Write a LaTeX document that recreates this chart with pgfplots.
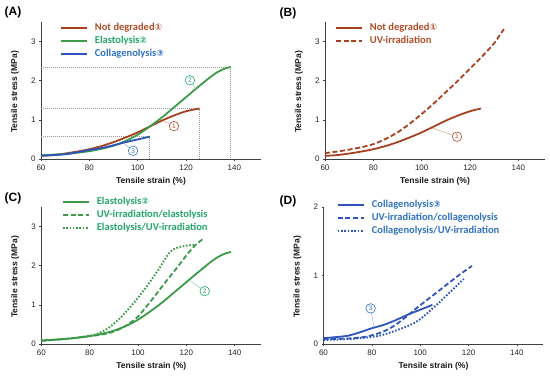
\documentclass[border=0pt]{standalone}
\usepackage{fontspec}
\setmainfont{Liberation Sans}
\newfontfamily\legfont{Carlito}
\newfontfamily\djv{DejaVu Sans}
\usepackage{pgfplots}
\pgfplotsset{compat=1.18}
\definecolor{cbrown}{HTML}{A8401E}
\definecolor{tbrown}{HTML}{B04E28}
\definecolor{cgreen}{HTML}{3C9A48}
\definecolor{tgreen}{HTML}{23A66A}
\definecolor{cblue}{HTML}{2D55BC}
\definecolor{tblue}{HTML}{2F72C4}
\newcommand{\cnum}[1]{{\djv\fontsize{9}{10}\selectfont #1}}
\tikzset{
  guide/.style={gray!80, line width=0.6pt, dash pattern=on 0.8pt off 1.2pt},
  lead/.style={line width=0.4pt},
  cmark/.style={circle, fill=white, line width=0.6pt, inner sep=0pt, minimum size=9.5pt, font=\fontsize{6.5}{7}\selectfont},
  sol/.style={line width=1.8pt},
  dsh/.style={line width=1.8pt, dash pattern=on 5pt off 2.6pt},
  dtt/.style={line width=1.9pt, dash pattern=on 1.6pt off 1.7pt},
}
\pgfplotsset{
  panel/.style={
    scale only axis, width=220pt, height=137pt,
    xmin=60, xmax=151, ymin=0,
    axis lines=left, axis line style={-, black!75, line width=0.6pt},
    xtick={60,80,...,140},
    tick align=outside, major tick length=2pt, tick style={black!75, line width=0.5pt},
    tick label style={font=\fontsize{8}{9}\selectfont, text=black!85},
    /pgf/number format/assume math mode=true,
    xlabel={\bfseries Tensile strain (\%)},
    ylabel={\bfseries Tensile stress (MPa)},
    label style={font=\fontsize{8.5}{10}\selectfont, text=black!90},
    xlabel style={at={(axis description cs:0.5,0)}, anchor=center, yshift=-22pt},
    ylabel style={at={(axis description cs:0,0.49)}, anchor=center, yshift=26pt},
    legend style={draw=none, fill=none, anchor=north west, inner sep=0pt,
      font=\legfont\bfseries\fontsize{10.5}{11}\selectfont,
      row sep=2pt, column sep=7pt,
      nodes={inner sep=0pt, text height=8pt, text depth=3pt}},
    legend cell align=left,
    legend image code/.code={\draw[#1] (0pt,0pt) -- (26pt,0pt);},
    clip=false,
    every axis plot/.append style={no markers, smooth, tension=0.5},
  },
}
\begin{document}
\begin{tikzpicture}[x=1pt,y=1pt]
\path[use as bounding box] (0,0) rectangle (550,377);
\node[font=\bfseries\fontsize{12}{14}\selectfont] at (13,365) {(A)};
\node[font=\bfseries\fontsize{12}{14}\selectfont] at (288,364) {(B)};
\node[font=\bfseries\fontsize{12}{14}\selectfont] at (13,179) {(C)};
\node[font=\bfseries\fontsize{12}{14}\selectfont] at (288,176) {(D)};

% ---------------- (A)
\begin{axis}[panel, at={(41pt,218pt)}, anchor=south west, ymax=3.5, ytick={0,1,2,3},
  legend style={at={(0.086,0.995)}}]
\draw[guide] (axis cs:60,2.35) -- (axis cs:138.5,2.35) -- (axis cs:138.5,0);
\draw[guide] (axis cs:60,1.29) -- (axis cs:125.5,1.29) -- (axis cs:125.5,0);
\draw[guide] (axis cs:60,0.57) -- (axis cs:105,0.57) -- (axis cs:105,0);
\addplot[sol, cbrown] coordinates {(60,0.08) (65,0.10) (70,0.14) (75,0.19) (80,0.25) (85,0.33) (90,0.43) (95,0.55) (100,0.68) (105,0.83) (110,0.98) (115,1.11) (120,1.22) (125.5,1.29)};
\addlegendentry{\textcolor{tbrown}{Not degraded\cnum{①}}}
\addplot[sol, cgreen] coordinates {(60,0.09) (65,0.11) (70,0.13) (75,0.16) (80,0.20) (85,0.26) (90,0.34) (95,0.46) (100,0.62) (105,0.83) (110,1.06) (115,1.32) (120,1.58) (125,1.84) (130,2.09) (133,2.22) (136,2.31) (138.5,2.35)};
\addlegendentry{\textcolor{tgreen}{Elastolysis\cnum{②}}}
\addplot[sol, cblue] coordinates {(60,0.085) (65,0.10) (70,0.12) (75,0.17) (80,0.23) (85,0.28) (90,0.35) (95,0.43) (100,0.50) (105,0.57)};
\addlegendentry{\textcolor{tblue}{Collagenolysis\cnum{③}}}
\draw[lead, tbrown!60] (axis cs:110.4,0.98) -- (axis cs:115,0.84);
\node[cmark, draw=tbrown, text=tbrown] at (axis cs:115,0.84) {1};
\draw[lead, tgreen!60] (axis cs:124,1.78) -- (axis cs:121.6,2.01);
\node[cmark, draw=tgreen, text=tgreen] at (axis cs:121.6,2.01) {2};
\draw[lead, tblue!60] (axis cs:94,0.41) -- (axis cs:98.1,0.21);
\node[cmark, draw=tblue, text=tblue] at (axis cs:98.1,0.21) {3};
\end{axis}

% ---------------- (B)
\begin{axis}[panel, at={(325pt,218pt)}, anchor=south west, ymax=3.5, ytick={0,1,2,3},
  legend style={at={(0.045,0.995)}}]
\addplot[sol, cbrown] coordinates {(60,0.08) (65,0.10) (70,0.14) (75,0.19) (80,0.25) (85,0.33) (90,0.43) (95,0.55) (100,0.68) (105,0.83) (110,0.98) (115,1.11) (120,1.22) (124.5,1.29)};
\addlegendentry{\textcolor{tbrown}{Not degraded\cnum{①}}}
\addplot[dsh, cbrown] coordinates {(60,0.15) (65,0.19) (70,0.24) (75,0.30) (80,0.38) (85,0.51) (90,0.68) (95,0.90) (100,1.15) (105,1.42) (110,1.71) (115,2.00) (120,2.31) (125,2.62) (130,2.96) (134,3.32)};
\addlegendentry{\textcolor{tbrown}{UV-irradiation}}
\draw[lead, tbrown!60] (axis cs:104,0.80) -- (axis cs:114.6,0.57);
\node[cmark, draw=tbrown, text=tbrown] at (axis cs:114.6,0.57) {1};
\end{axis}

% ---------------- (C)
\begin{axis}[panel, at={(41.3pt,33pt)}, anchor=south west, ymax=3.5, ytick={0,1,2,3},
  legend style={at={(0.093,1.08)}}]
\addplot[sol, cgreen] coordinates {(60,0.09) (65,0.11) (70,0.13) (75,0.16) (80,0.20) (85,0.26) (90,0.34) (95,0.46) (100,0.62) (105,0.83) (110,1.06) (115,1.32) (120,1.58) (125,1.84) (130,2.09) (133,2.22) (136,2.31) (138.5,2.35)};
\addlegendentry{\textcolor{tgreen}{Elastolysis\cnum{②}}}
\addplot[dsh, cgreen] coordinates {(60,0.08) (66,0.11) (72,0.14) (78,0.19) (84,0.23) (88,0.28) (91,0.34) (94,0.43) (97,0.55) (100,0.70) (103,0.92) (106,1.15) (109,1.39) (112,1.63) (115,1.86) (118,2.10) (121,2.34) (124,2.54) (127.2,2.70)};
\addlegendentry{\textcolor{tgreen}{UV-irradiation/elastolysis}}
\addplot[dtt, cgreen] coordinates {(60,0.08) (70,0.13) (78,0.19) (82,0.24) (85,0.31) (88,0.42) (91,0.57) (94,0.75) (97,0.96) (100,1.18) (103,1.42) (106,1.68) (109,1.95) (111,2.15) (113,2.33) (115,2.43) (118,2.49) (121,2.52) (123.5,2.53)};
\addlegendentry{\textcolor{tgreen}{Elastolysis/UV-irradiation}}
\draw[lead, tgreen!60] (axis cs:121.5,1.62) -- (axis cs:127.6,1.35);
\node[cmark, draw=tgreen, text=tgreen] at (axis cs:127.6,1.35) {2};
\end{axis}

% ---------------- (D)
\begin{axis}[panel, at={(323.5pt,33pt)}, anchor=south west, ymax=2, ytick={0,1,2},
  legend style={at={(0.06,1.055)}}]
\addplot[sol, cblue] coordinates {(60,0.085) (65,0.10) (70,0.12) (75,0.17) (80,0.23) (85,0.28) (90,0.35) (95,0.43) (100,0.50) (105,0.57)};
\addlegendentry{\textcolor{tblue}{Collagenolysis\cnum{③}}}
\addplot[dsh, cblue] coordinates {(60,0.07) (66,0.075) (72,0.085) (78,0.11) (84,0.17) (88,0.24) (91,0.31) (95,0.42) (98,0.51) (102,0.62) (106,0.73) (110,0.84) (114,0.95) (117,1.03) (121.4,1.14)};
\addlegendentry{\textcolor{tblue}{UV-irradiation/collagenolysis}}
\addplot[dtt, cblue] coordinates {(60,0.06) (66,0.065) (72,0.075) (78,0.095) (83,0.12) (87,0.16) (91,0.21) (94,0.25) (97.7,0.31) (101,0.39) (104.5,0.50) (108,0.61) (111.2,0.72) (114.5,0.83) (118,0.95)};
\addlegendentry{\textcolor{tblue}{Collagenolysis/UV-irradiation}}
\draw[lead, tblue!60] (axis cs:80.9,0.25) -- (axis cs:79.5,0.52);
\node[cmark, draw=tblue, text=tblue] at (axis cs:79.5,0.52) {3};
\end{axis}
\end{tikzpicture}
\end{document}
